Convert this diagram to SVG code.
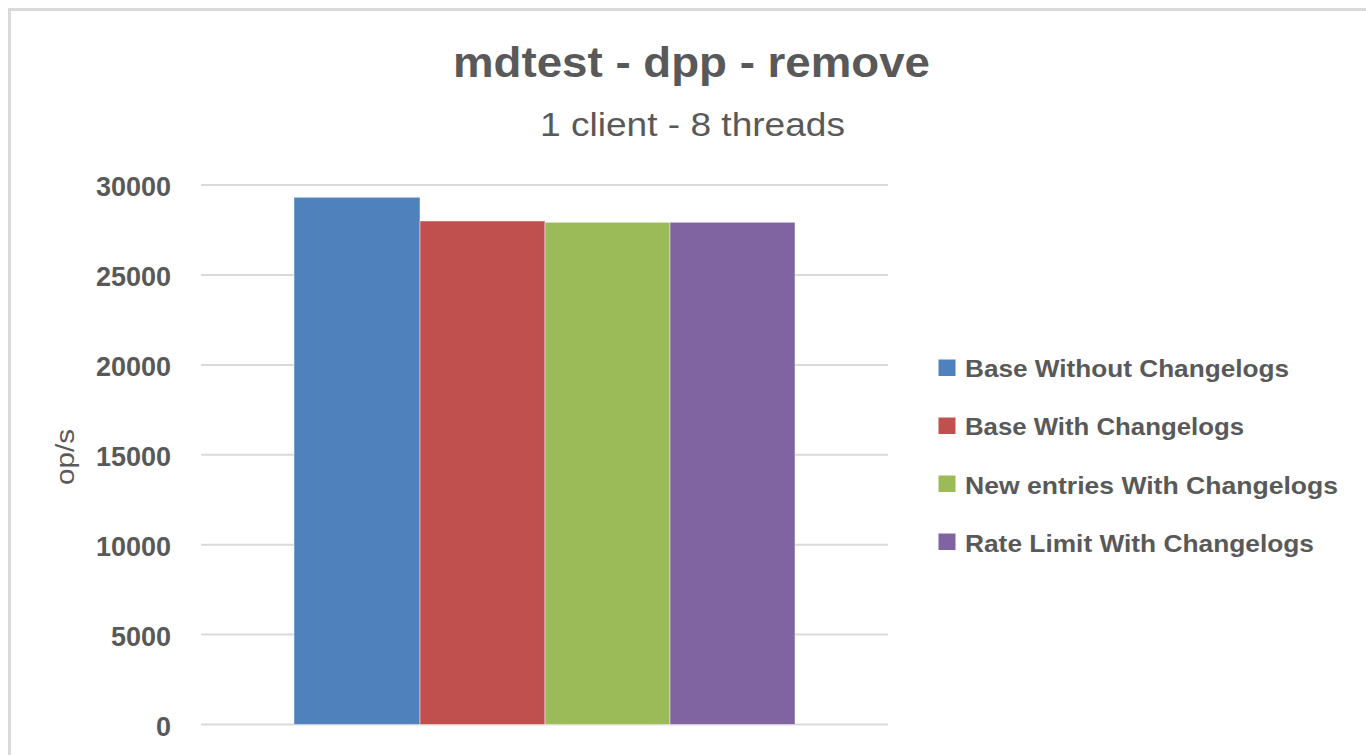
<svg xmlns="http://www.w3.org/2000/svg" width="1366" height="755" viewBox="0 0 1366 755">
<style>
.t{font-family:"Liberation Sans",Arial,sans-serif;fill:#595959}
.b{font-weight:bold}
.ax{font-size:27px;font-weight:bold;text-anchor:end}
.lg{font-size:24px;font-weight:bold}
.grid{stroke:#d9d9d9;stroke-width:2}
.bar{stroke:#ffffff;stroke-opacity:0.45;stroke-width:1}
</style>
<rect x="0" y="0" width="1366" height="755" fill="#ffffff"/>
<rect x="9.5" y="9.5" width="1400" height="800" fill="#ffffff" stroke="#d9d9d9" stroke-width="3"/>
<g id="title">
<text class="t b" x="691.5" y="77" font-size="42" text-anchor="middle" textLength="477" lengthAdjust="spacingAndGlyphs">mdtest - dpp - remove</text>
<text class="t" x="692.5" y="136" font-size="34" text-anchor="middle" textLength="305" lengthAdjust="spacingAndGlyphs">1 client - 8 threads</text>
</g>
<g id="gridlines">
<line class="grid" x1="201" y1="185.1" x2="888" y2="185.1"/>
<line class="grid" x1="201" y1="275" x2="888" y2="275"/>
<line class="grid" x1="201" y1="364.9" x2="888" y2="364.9"/>
<line class="grid" x1="201" y1="454.8" x2="888" y2="454.8"/>
<line class="grid" x1="201" y1="544.7" x2="888" y2="544.7"/>
<line class="grid" x1="201" y1="634.6" x2="888" y2="634.6"/>
<line class="grid" x1="201" y1="724.5" x2="888" y2="724.5"/>
</g>
<g id="y-axis">
<text class="t ax" x="171" y="196">30000</text>
<text class="t ax" x="171" y="286">25000</text>
<text class="t ax" x="171" y="376">20000</text>
<text class="t ax" x="171" y="466">15000</text>
<text class="t ax" x="171" y="556">10000</text>
<text class="t ax" x="171" y="646">5000</text>
<text class="t ax" x="171" y="736">0</text>
<text class="t" transform="translate(74,457) rotate(-90)" font-size="26" text-anchor="middle" textLength="56" lengthAdjust="spacingAndGlyphs">op/s</text>
</g>
<g id="bars">
<rect id="bar-base-without" class="bar" x="294" y="197.3" width="126" height="527.2" fill="#4f81bd"/>
<rect id="bar-base-with" class="bar" x="420" y="221" width="125" height="503.5" fill="#c0504d"/>
<rect id="bar-new-entries" class="bar" x="545" y="222.3" width="125" height="502.2" fill="#9bbb59"/>
<rect id="bar-rate-limit" class="bar" x="670" y="222.3" width="125" height="502.2" fill="#8064a2"/>
</g>
<g id="legend">
<g id="legend-1">
<rect x="938.5" y="359.5" width="17" height="16.5" fill="#4f81bd"/>
<text class="t lg" x="965" y="377.3" textLength="324" lengthAdjust="spacingAndGlyphs">Base Without Changelogs</text>
</g>
<g id="legend-2">
<rect x="938.5" y="417.5" width="17" height="16.5" fill="#c0504d"/>
<text class="t lg" x="965" y="435.4" textLength="279" lengthAdjust="spacingAndGlyphs">Base With Changelogs</text>
</g>
<g id="legend-3">
<rect x="938.5" y="475.5" width="17" height="16.5" fill="#9bbb59"/>
<text class="t lg" x="965" y="493.5" textLength="373" lengthAdjust="spacingAndGlyphs">New entries With Changelogs</text>
</g>
<g id="legend-4">
<rect x="938.5" y="533.5" width="17" height="16.5" fill="#8064a2"/>
<text class="t lg" x="965" y="551.6" textLength="349" lengthAdjust="spacingAndGlyphs">Rate Limit With Changelogs</text>
</g>
</g>
</svg>
